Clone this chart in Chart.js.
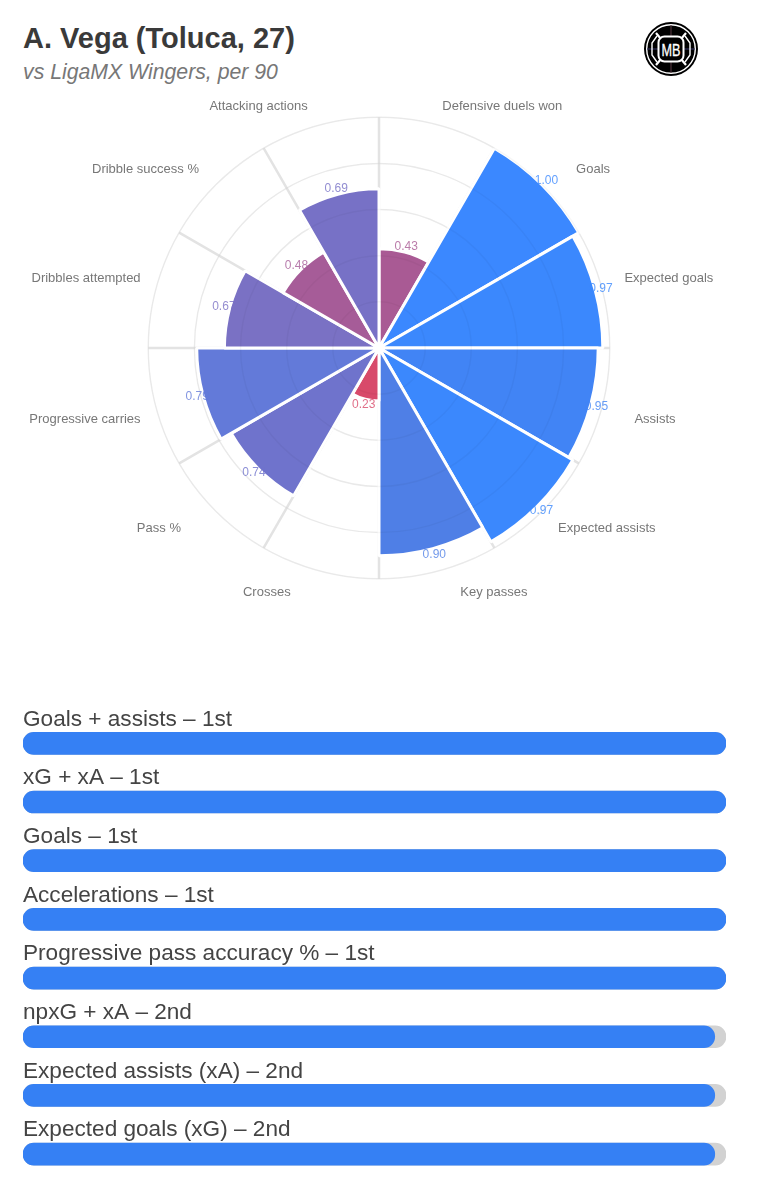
<!DOCTYPE html>
<html><head><meta charset="utf-8">
<script src="https://cdn.jsdelivr.net/npm/chart.js@4"></script>
<style>
html,body{margin:0;padding:0;background:#fff;width:757px;height:1200px;overflow:hidden;font-family:"Liberation Sans",Arial,sans-serif}
#wrap{position:relative;width:757px;height:1200px}
#title{position:absolute;left:23px;top:22px;font-size:29px;font-weight:bold;color:#3a3a3a;line-height:32px;white-space:nowrap}
#sub{position:absolute;left:23px;top:60px;font-size:21.25px;font-style:italic;color:#777;line-height:24px;white-space:nowrap}
#logo{position:absolute;left:644px;top:22px}
#polar{position:absolute;left:1px;top:96px}
#bars{position:absolute;left:23px;top:691px}
</style></head><body>
<div id="wrap">
<div id="title">A. Vega (Toluca, 27)</div>
<div id="sub">vs LigaMX Wingers, per 90</div>
<svg id="logo" width="54" height="54" viewBox="0 0 54 54">
<circle cx="27" cy="27" r="27" fill="#000"/><circle cx="27" cy="27" r="24.3" fill="none" stroke="#fff" stroke-width="1.4"/>
<path d="M27 3V14M27 40V51" stroke="#5a3a44" stroke-width="1"/><path d="M3 27H14M40 27H51" stroke="#39396a" stroke-width="1"/>
<path d="M17 17L12 11M37 17L42 11M17 37L12 43M37 37L42 43" stroke="#fff" stroke-width="2.2"/>
<path d="M13 14L8 21V33L13 40M41 14L46 21V33L41 40" fill="none" stroke="#fff" stroke-width="1.4"/>
<rect x="14.5" y="14.5" width="25" height="25" rx="6" fill="#000" stroke="#fff" stroke-width="2"/>
<text x="27" y="33.5" text-anchor="middle" font-family="Liberation Sans" font-size="17" fill="#fff" stroke="#fff" stroke-width="0.3" textLength="19" lengthAdjust="spacingAndGlyphs">MB</text>
</svg>
<canvas id="polar" width="757" height="504" style="width:757px;height:504px"></canvas>
<canvas id="bars" width="703" height="506" style="width:703px;height:506px"></canvas>
</div>
<script>
const metricNames = ["Defensive duels won","Goals","Expected goals","Assists","Expected assists","Key passes","Crosses","Pass %","Progressive carries","Dribbles attempted","Dribble success %","Attacking actions"];
const metricValues = [0.43,1.00,0.97,0.95,0.97,0.90,0.23,0.74,0.79,0.67,0.48,0.69];
const metricColors = ["#a95a94","#3b88ff","#3b88fd","#4184f5","#3b88fd","#4f7fe6","#d84a6a","#6f73cc","#637ad9","#7a71c4","#a65c98","#7771c6"];
const labelPadding = [14,14,14,14,14,14,14,14,14,14,14,14];
const labelNudge = [0,24,9,19,6,18,-25,-25,-2,-2,-7,-8];
const labelNudgeY = [3,2,2,0,0,0,0,0,0,2,2,3];
const rankLabels = ["Goals + assists – 1st","xG + xA – 1st","Goals – 1st","Accelerations – 1st","Progressive pass accuracy % – 1st","npxG + xA – 2nd","Expected assists (xA) – 2nd","Expected goals (xG) – 2nd"];
const rankValues = [1,1,1,1,1,0.984,0.984,0.984];
const rankTrack = [1,1,1,1,1,1,1,1];

const polarOverlay = {
  id:'polarOverlay',
  afterLayout(chart){
    const s = chart.scales.r;
    (s._pointLabelItems||[]).forEach((it,i)=>{ it.x += labelNudge[i]; it.y += labelNudgeY[i]; });
  },
  afterDatasetsDraw(chart){
    const s = chart.scales.r, ctx = chart.ctx;
    ctx.save();
    ctx.strokeStyle='rgba(0,0,0,0.035)'; ctx.lineWidth=1.5;
    s.ticks.forEach(t=>{ if(t.value>0){ ctx.beginPath(); ctx.arc(s.xCenter,s.yCenter,s.getDistanceFromCenterForValue(t.value),0,Math.PI*2); ctx.stroke(); }});
    ctx.font='12px "Liberation Sans"'; ctx.textAlign='center'; ctx.textBaseline='middle';
    chart.getDatasetMeta(0).data.forEach((a,i)=>{
      const m=(a.startAngle+a.endAngle)/2, r=a.outerRadius+6;
      ctx.globalAlpha=0.8; ctx.fillStyle=metricColors[i];
      ctx.fillText(metricValues[i].toFixed(2),a.x+Math.cos(m)*r,a.y+Math.sin(m)*r);
    });
    ctx.restore();
  }
};
new Chart(document.getElementById('polar'),{
  type:'polarArea',
  data:{labels:metricNames,datasets:[{data:metricValues,backgroundColor:metricColors,borderColor:'#fff',borderWidth:3}]},
  plugins:[polarOverlay],
  options:{
    responsive:false,animation:false,devicePixelRatio:1,
    plugins:{legend:{display:false},tooltip:{enabled:false}},
    scales:{r:{min:0,max:1,startAngle:0,
      ticks:{display:false,stepSize:0.2},
      grid:{circular:true,color:'rgba(0,0,0,0.055)',lineWidth:1.5},
      angleLines:{display:true,color:'#e3e3e3',lineWidth:2.5},
      pointLabels:{display:true,centerPointLabels:true,color:'#777',font:{family:'"Liberation Sans"',size:13},padding:c=>labelPadding[c.index]}
    }}
  }
});
new Chart(document.getElementById('bars'),{
  type:'bar',
  data:{labels:rankLabels,datasets:[
    {data:rankValues,backgroundColor:'#3580f4',borderRadius:11,borderSkipped:false,barThickness:22,grouped:false},
    {data:rankTrack,backgroundColor:'#d2d2d2',borderRadius:11,borderSkipped:false,barThickness:22,grouped:false}
  ]},
  options:{
    indexAxis:'y',responsive:false,animation:false,devicePixelRatio:1,
    layout:{padding:{top:23,bottom:0,left:0,right:0}},
    plugins:{legend:{display:false},tooltip:{enabled:false}},
    scales:{
      x:{display:false,min:0,max:1},
      y:{afterFit:s=>{s.width=0;},grid:{display:false,drawTicks:false},border:{display:false},
         ticks:{mirror:true,padding:0,labelOffset:-24,autoSkip:false,color:'#444',font:{family:'"Liberation Sans"',size:22.6}}}
    }
  }
});
</script>
</body></html>
